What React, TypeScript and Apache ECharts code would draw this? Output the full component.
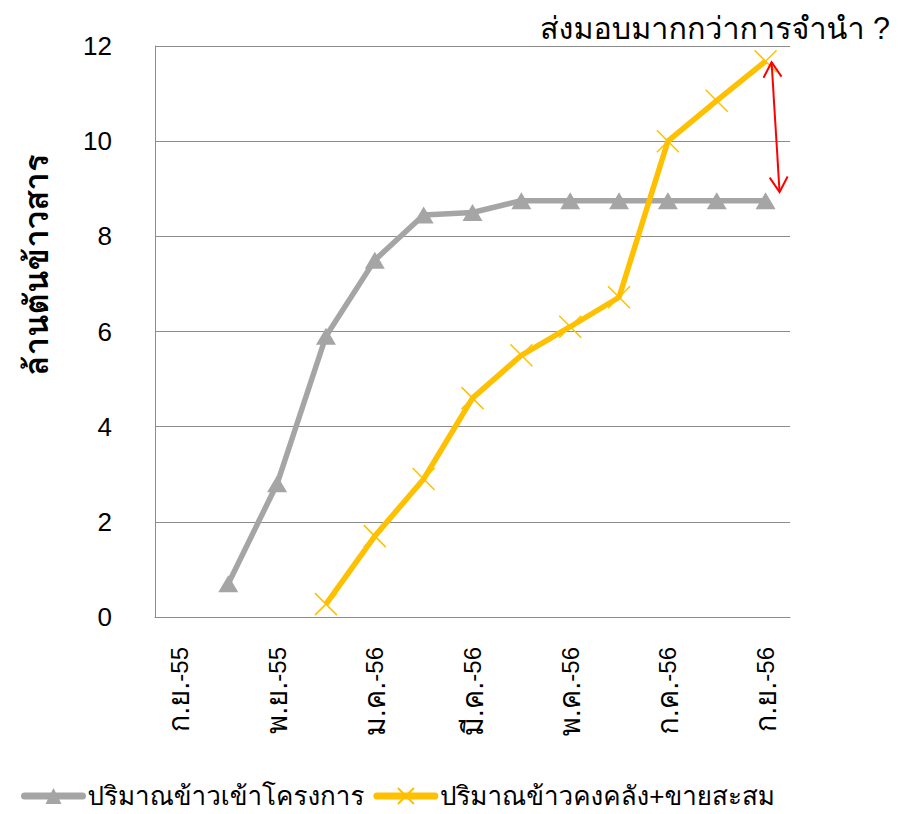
import React, { useEffect, useRef } from "react";
import * as echarts from "echarts";

const months = [
  "ก.ย.-55", "ต.ค.-55", "พ.ย.-55", "ธ.ค.-55", "ม.ค.-56", "ก.พ.-56", "มี.ค.-56",
  "เม.ย.-56", "พ.ค.-56", "มิ.ย.-56", "ก.ค.-56", "ส.ค.-56", "ก.ย.-56",
];
const pledged: (number | null)[] = [null, 0.7, 2.8, 5.9, 7.5, 8.45, 8.5, 8.75, 8.75, 8.75, 8.75, 8.75, 8.75];
const delivered: (number | null)[] = [null, null, null, 0.27, 1.7, 2.9, 4.6, 5.5, 6.1, 6.72, 10.0, 10.85, 11.68];
const seriesNames = ["ปริมาณข้าวเข้าโครงการ", "ปริมาณข้าวคงคลัง+ขายสะสม"];
const yTitle = "ล้านตันข้าวสาร";
const note = "ส่งมอบมากกว่าการจำนำ ?";

const FONT = "'Liberation Sans', Arial, Tahoma, Loma, Garuda, sans-serif";
const CROSS = "path://M0,0L10,10M10,0L0,10";

export default function App() {
  const ref = useRef<HTMLDivElement>(null);
  useEffect(() => {
    if (!ref.current) return;
    const chart = echarts.init(ref.current, null, { renderer: "svg" });
    chart.setOption({
      animation: false,
      textStyle: { fontFamily: FONT },
      grid: { left: 155, right: 108, top: 46, bottom: 197 },
      legend: {
        left: 16,
        bottom: 0,
        itemWidth: 58,
        itemHeight: 20,
        itemGap: 9,
        lineStyle: { width: 7, cap: "round" },
        textStyle: { fontSize: 26, color: "#000", fontFamily: FONT },
        data: seriesNames,
      },
      xAxis: {
        type: "category",
        data: months,
        boundaryGap: true,
        axisLine: { lineStyle: { color: "#8c8c8c", width: 1 } },
        axisTick: { show: false },
        axisLabel: {
          interval: 1,
          rotate: 90,
          margin: 30,
          fontSize: 24,
          color: "#000",
          fontFamily: FONT,
          formatter: (v: string) => {
            const i = v.lastIndexOf("-");
            return `{t|${v.slice(0, i)}}{d|${v.slice(i)}}`;
          },
          rich: {
            t: { fontSize: 29, color: "#000", fontFamily: FONT },
            d: { fontSize: 24, color: "#000", fontFamily: FONT },
          },
        },
      },
      yAxis: {
        type: "value",
        min: 0,
        max: 12,
        interval: 2,
        axisLine: { show: true, lineStyle: { color: "#8c8c8c", width: 1 } },
        axisTick: { show: false },
        splitLine: { lineStyle: { color: "#8c8c8c", width: 1 } },
        axisLabel: { fontSize: 26, color: "#000", margin: 43, fontFamily: FONT },
      },
      series: [
        {
          name: seriesNames[0],
          type: "line",
          data: pledged,
          symbol: "triangle",
          symbolSize: [20, 17],
          showAllSymbol: true,
          lineStyle: { color: "#A5A5A5", width: 5.5 },
          itemStyle: { color: "#A5A5A5", borderWidth: 0 },
          z: 2,
        },
        {
          name: seriesNames[1],
          type: "line",
          data: delivered,
          symbol: CROSS,
          symbolSize: 22,
          showAllSymbol: true,
          lineStyle: { color: "#FFC000", width: 5.5 },
          itemStyle: { color: "#FFC000", borderColor: "#FFC000", borderWidth: 1.5 },
          z: 3,
        },
      ],
    });

    const top = chart.convertToPixel({ seriesIndex: 1 }, [12, delivered[12] as number]) as number[];
    const bot = chart.convertToPixel({ seriesIndex: 0 }, [12, 8.93]) as number[];
    const x1 = top[0] + 6, y1 = top[1] + 1;
    const x2 = top[0] + 14, y2 = bot[1];
    const dx = x2 - x1, dy = y2 - y1;
    const len = Math.sqrt(dx * dx + dy * dy);
    const ux = dx / len, uy = dy / len;
    const px = -uy, py = ux;
    const hl = 15, hw = 9;
    const red = { stroke: "#FF0000", lineWidth: 2, fill: null };
    chart.setOption({
      graphic: [
        {
          type: "text",
          right: 8,
          top: 12,
          style: { text: note, fontSize: 30.5, fill: "#000", fontFamily: FONT },
        },
        {
          type: "text",
          x: 36,
          y: 265,
          rotation: Math.PI / 2,
          style: {
            text: yTitle,
            fontSize: 33,
            fontWeight: "bold",
            fill: "#000",
            fontFamily: FONT,
            align: "center",
            verticalAlign: "middle",
          },
        },
        { type: "line", shape: { x1, y1, x2, y2 }, style: red, z: 10 },
        {
          type: "polyline",
          shape: {
            points: [
              [x1 + ux * hl + px * hw, y1 + uy * hl + py * hw],
              [x1, y1],
              [x1 + ux * hl - px * hw, y1 + uy * hl - py * hw],
            ],
          },
          style: red,
          z: 10,
        },
        {
          type: "polyline",
          shape: {
            points: [
              [x2 - ux * hl + px * hw, y2 - uy * hl + py * hw],
              [x2, y2],
              [x2 - ux * hl - px * hw, y2 - uy * hl - py * hw],
            ],
          },
          style: red,
          z: 10,
        },
      ],
    });
    return () => chart.dispose();
  }, []);
  return (
    <div
      ref={ref}
      style={{ position: "fixed", left: 0, top: 0, width: 898, height: 814, background: "#fff" }}
    />
  );
}
